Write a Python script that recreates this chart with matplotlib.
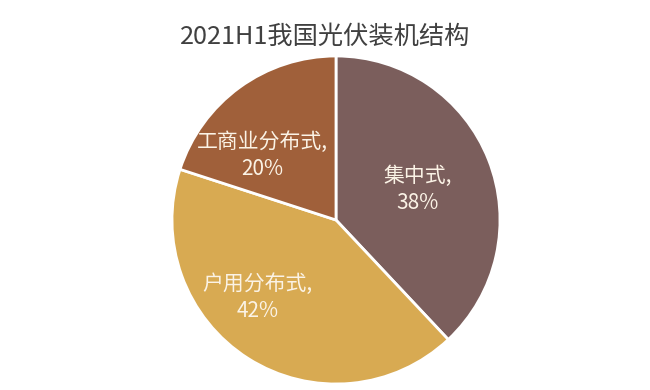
import numpy as np
import matplotlib
matplotlib.use("Agg")
import matplotlib.pyplot as plt

plt.rcParams['font.family'] = ['Noto Sans CJK SC', 'DejaVu Sans']

title = "2021H1我国光伏装机结构"
categories = ["集中式", "户用分布式", "工商业分布式"]
shares = [38, 42, 20]
colors = ["#7b5e5c", "#d8aa52", "#a0603a"]

# label placement tweaks: (radius fraction, angle shift in degrees)
label_pos = [(0.53, -1.3), (0.67, -13), (0.60, 12.7)]

fig = plt.figure(figsize=(6.5, 3.9), dpi=100)
ax = fig.add_axes([172 / 650, 6 / 390, 328 / 650, 328 / 390])

wedges, _ = ax.pie(shares, colors=colors, startangle=90, counterclock=False,
                   radius=1.0, wedgeprops=dict(edgecolor="white", linewidth=2))

for w, name, val, (r, shift) in zip(wedges, categories, shares, label_pos):
    mid = np.deg2rad((w.theta1 + w.theta2) / 2 + shift)
    ax.text(r * np.cos(mid), r * np.sin(mid), f"{name},\n{val}%",
            ha="center", va="center", color="#fbf3e6", fontsize=15,
            linespacing=1.3)

ax.set_xlim(-1, 1)
ax.set_ylim(-1, 1)
ax.set_aspect("equal")
ax.axis("off")

fig.text(325 / 650, 1 - 37 / 390, title, ha="center", va="center",
         fontsize=18.2, color="#404040")

fig.savefig("out.png", dpi=100)
